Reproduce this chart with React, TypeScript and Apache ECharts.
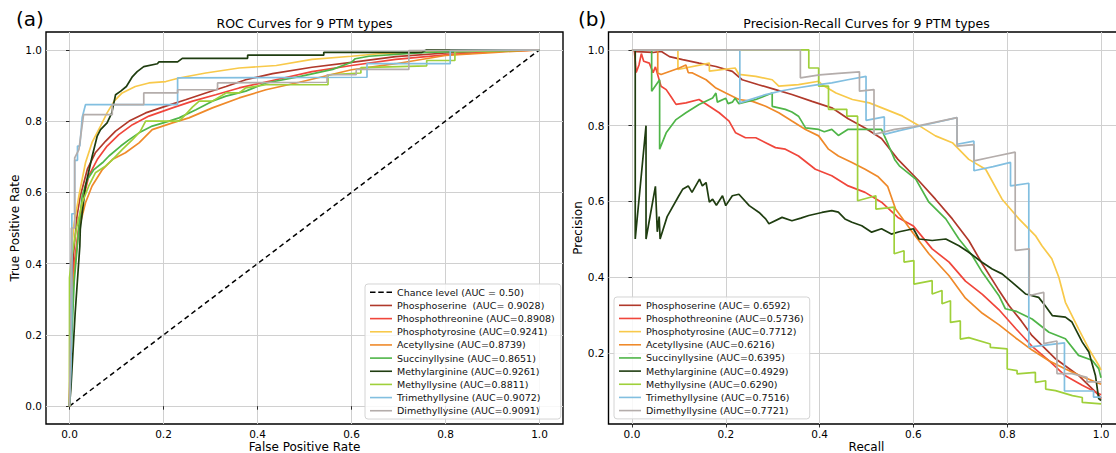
import React, { useEffect, useRef } from "react";
import * as echarts from "echarts";

type Pt = [number, number];

// ---- axis ticks ----
const rocTicks = [0, 0.2, 0.4, 0.6, 0.8, 1.0];
const prXTicks = [0, 0.2, 0.4, 0.6, 0.8, 1.0];
const prYTicks = [0.2, 0.4, 0.6, 0.8, 1.0];

// ---- PTM types, colours and legend labels ----
const ptmTypes = [
  "Phosphoserine",
  "Phosphothreonine",
  "Phosphotyrosine",
  "Acetyllysine",
  "Succinyllysine",
  "Methylarginine",
  "Methyllysine",
  "Trimethyllysine",
  "Dimethyllysine",
];
const ptmColors = [
  "#b0392b",
  "#f0463b",
  "#f8c94a",
  "#ef8a2a",
  "#4fb548",
  "#1f3d10",
  "#9fd03a",
  "#82bfe0",
  "#b4adab",
];
const chanceLabel = "Chance level (AUC = 0.50)";
const rocLabels = [
  "Phosphoserine  (AUC= 0.9028)",
  "Phosphothreonine (AUC=0.8908)",
  "Phosphotyrosine (AUC=0.9241)",
  "Acetyllysine (AUC=0.8739)",
  "Succinyllysine (AUC=0.8651)",
  "Methylarginine (AUC=0.9261)",
  "Methyllysine (AUC=0.8811)",
  "Trimethyllysine (AUC=0.9072)",
  "Dimethyllysine (AUC=0.9091)",
];
const prLabels = [
  "Phosphoserine (AUC= 0.6592)",
  "Phosphothreonine (AUC=0.5736)",
  "Phosphotyrosine (AUC=0.7712)",
  "Acetyllysine (AUC=0.6216)",
  "Succinyllysine (AUC=0.6395)",
  "Methylarginine (AUC=0.4929)",
  "Methyllysine (AUC=0.6290)",
  "Trimethyllysine (AUC=0.7516)",
  "Dimethyllysine (AUC=0.7721)",
];

// ---- ROC curves: [false positive rate, true positive rate] ----
const rocChance: Pt[] = [[0, 0], [1, 1]];
const rocPhosphoserine: Pt[] = [[0,0],[0.002,0.2],[0.008,0.42],[0.016,0.534],[0.023,0.59],[0.038,0.665],[0.055,0.711],[0.077,0.744],[0.098,0.772],[0.127,0.8],[0.162,0.823],[0.205,0.842],[0.247,0.86],[0.29,0.879],[0.333,0.897],[0.375,0.916],[0.432,0.933],[0.516,0.951],[0.6,0.965],[0.694,0.981],[0.8,0.991],[0.9,0.997],[1,1]];
const rocPhosphothreonine: Pt[] = [[0,0],[0.003,0.2],[0.01,0.4],[0.02,0.506],[0.031,0.59],[0.041,0.646],[0.059,0.692],[0.08,0.73],[0.105,0.762],[0.134,0.79],[0.169,0.814],[0.219,0.837],[0.262,0.856],[0.311,0.874],[0.361,0.893],[0.432,0.914],[0.516,0.939],[0.6,0.956],[0.694,0.973],[0.8,0.986],[0.906,0.995],[1,1]];
const rocPhosphotyrosine: Pt[] = [[0,0],[0.001,0.3],[0.004,0.42],[0.009,0.506],[0.02,0.59],[0.034,0.683],[0.048,0.74],[0.066,0.786],[0.08,0.823],[0.095,0.856],[0.112,0.879],[0.14,0.897],[0.169,0.907],[0.205,0.911],[0.233,0.921],[0.29,0.935],[0.361,0.949],[0.44,0.956],[0.516,0.973],[0.6,0.982],[0.658,0.989],[0.8,0.996],[1,1]];
const rocAcetyllysine: Pt[] = [[0,0],[0.002,0.15],[0.008,0.35],[0.02,0.497],[0.034,0.571],[0.048,0.618],[0.07,0.664],[0.091,0.692],[0.119,0.711],[0.148,0.739],[0.176,0.776],[0.219,0.795],[0.254,0.809],[0.304,0.837],[0.361,0.865],[0.418,0.888],[0.489,0.909],[0.6,0.944],[0.694,0.961],[0.8,0.984],[0.906,0.993],[1,1]];
const rocSuccinyllysine: Pt[] = [[0,0],[0.002,0.1],[0.01,0.35],[0.02,0.5],[0.027,0.59],[0.038,0.636],[0.052,0.664],[0.07,0.683],[0.084,0.702],[0.109,0.73],[0.127,0.748],[0.148,0.767],[0.176,0.786],[0.212,0.8],[0.233,0.809],[0.269,0.832],[0.304,0.856],[0.333,0.87],[0.375,0.884],[0.418,0.907],[0.489,0.925],[0.56,0.945],[0.6,0.965],[0.608,0.975],[0.637,0.982],[0.757,0.993],[0.82,0.995],[1,1]];
const rocMethylarginine: Pt[] = [[0,0],[0.003,0.05],[0.012,0.26],[0.022,0.45],[0.023,0.497],[0.034,0.618],[0.048,0.7],[0.059,0.758],[0.066,0.776],[0.08,0.795],[0.09,0.823],[0.098,0.874],[0.109,0.884],[0.121,0.897],[0.134,0.925],[0.144,0.939],[0.158,0.953],[0.187,0.961],[0.19,0.966],[0.23,0.966],[0.24,0.976],[0.379,0.976],[0.379,0.985],[0.541,0.985],[0.541,0.993],[0.75,0.993],[0.76,1],[1,1]];
const rocMethyllysine: Pt[] = [[0,0],[0,0.36],[0.005,0.42],[0.015,0.5],[0.027,0.571],[0.041,0.618],[0.055,0.655],[0.077,0.674],[0.09,0.69],[0.112,0.72],[0.134,0.748],[0.15,0.77],[0.162,0.8],[0.233,0.8],[0.247,0.818],[0.262,0.84],[0.276,0.856],[0.304,0.856],[0.333,0.879],[0.361,0.879],[0.375,0.893],[0.418,0.902],[0.55,0.902],[0.55,0.93],[0.62,0.935],[0.62,0.95],[0.76,0.955],[0.76,0.97],[0.82,0.97],[0.82,0.995],[1,1]];
const rocTrimethyllysine: Pt[] = [[0,0],[0.003,0.1],[0.005,0.26],[0.005,0.54],[0.011,0.54],[0.011,0.69],[0.017,0.69],[0.017,0.73],[0.022,0.73],[0.027,0.81],[0.034,0.846],[0.23,0.846],[0.23,0.921],[0.633,0.923],[0.633,0.961],[0.81,0.961],[0.81,0.998],[1,1]];
const rocDimethyllysine: Pt[] = [[0,0],[0.002,0.19],[0.004,0.5],[0.011,0.5],[0.011,0.697],[0.02,0.72],[0.03,0.818],[0.091,0.818],[0.091,0.846],[0.158,0.846],[0.158,0.879],[0.23,0.879],[0.23,0.888],[0.315,0.888],[0.315,0.907],[0.548,0.909],[0.548,0.93],[0.61,0.93],[0.61,0.945],[0.722,0.945],[0.722,0.998],[1,1]];

// ---- Precision-recall curves: [recall, precision] ----
const prPhosphoserine: Pt[] = [[0,1],[0.01,0.995],[0.045,0.993],[0.062,0.996],[0.08,0.982],[0.108,0.974],[0.143,0.965],[0.179,0.956],[0.214,0.943],[0.235,0.921],[0.27,0.908],[0.306,0.895],[0.341,0.882],[0.384,0.864],[0.426,0.847],[0.461,0.818],[0.497,0.794],[0.532,0.766],[0.567,0.711],[0.612,0.654],[0.647,0.606],[0.683,0.554],[0.718,0.497],[0.747,0.435],[0.78,0.37],[0.804,0.325],[0.83,0.285],[0.853,0.246],[0.903,0.185],[0.952,0.141],[0.995,0.089],[1,0.08]];
const prPhosphothreonine: Pt[] = [[0,1],[0.005,1],[0.009,0.94],[0.015,0.96],[0.02,0.99],[0.025,0.97],[0.037,0.965],[0.045,0.94],[0.05,0.955],[0.062,0.904],[0.073,0.895],[0.083,0.877],[0.094,0.856],[0.115,0.86],[0.143,0.869],[0.165,0.851],[0.186,0.834],[0.207,0.812],[0.221,0.781],[0.242,0.768],[0.264,0.768],[0.285,0.755],[0.306,0.742],[0.327,0.738],[0.355,0.72],[0.391,0.685],[0.426,0.668],[0.461,0.641],[0.497,0.624],[0.532,0.598],[0.567,0.558],[0.6,0.535],[0.64,0.475],[0.676,0.44],[0.711,0.39],[0.747,0.355],[0.782,0.315],[0.818,0.265],[0.853,0.218],[0.889,0.18],[0.924,0.14],[0.96,0.115],[1,0.09]];
const prPhosphotyrosine: Pt[] = [[0,1],[0.098,1],[0.098,0.948],[0.165,0.965],[0.165,0.944],[0.22,0.952],[0.228,0.935],[0.264,0.93],[0.299,0.921],[0.313,0.904],[0.355,0.908],[0.398,0.917],[0.405,0.908],[0.435,0.886],[0.47,0.869],[0.506,0.86],[0.541,0.843],[0.577,0.825],[0.612,0.8],[0.647,0.773],[0.683,0.755],[0.718,0.711],[0.754,0.685],[0.789,0.606],[0.825,0.554],[0.86,0.51],[0.874,0.483],[0.895,0.449],[0.91,0.4],[0.924,0.334],[0.952,0.264],[0.974,0.211],[0.995,0.168],[1,0.155]];
const prAcetyllysine: Pt[] = [[0,1],[0.055,1],[0.055,0.939],[0.062,0.935],[0.101,0.952],[0.115,0.96],[0.12,0.94],[0.129,0.939],[0.158,0.921],[0.179,0.899],[0.2,0.886],[0.228,0.869],[0.257,0.864],[0.285,0.851],[0.313,0.834],[0.341,0.812],[0.37,0.79],[0.398,0.773],[0.419,0.738],[0.44,0.72],[0.469,0.703],[0.497,0.685],[0.525,0.665],[0.545,0.64],[0.562,0.58],[0.598,0.519],[0.633,0.462],[0.676,0.404],[0.711,0.345],[0.747,0.305],[0.782,0.275],[0.818,0.24],[0.853,0.208],[0.889,0.18],[0.924,0.158],[0.96,0.138],[1,0.118]];
const prSuccinyllysine: Pt[] = [[0,1],[0.042,1],[0.042,0.891],[0.059,0.921],[0.059,0.738],[0.073,0.781],[0.094,0.816],[0.115,0.834],[0.143,0.856],[0.172,0.873],[0.179,0.886],[0.182,0.862],[0.2,0.872],[0.205,0.858],[0.214,0.862],[0.22,0.872],[0.228,0.858],[0.264,0.869],[0.299,0.886],[0.299,0.851],[0.327,0.843],[0.341,0.836],[0.355,0.825],[0.37,0.794],[0.398,0.79],[0.41,0.784],[0.426,0.79],[0.44,0.774],[0.46,0.79],[0.497,0.79],[0.532,0.79],[0.546,0.751],[0.56,0.711],[0.57,0.694],[0.605,0.659],[0.633,0.598],[0.669,0.554],[0.697,0.501],[0.725,0.458],[0.747,0.413],[0.782,0.352],[0.796,0.317],[0.82,0.31],[0.853,0.29],[0.889,0.255],[0.924,0.238],[0.952,0.194],[0.981,0.181],[0.995,0.159],[1,0.135]];
const prMethylarginine: Pt[] = [[0.007,1],[0.007,0.501],[0.03,0.8],[0.03,0.501],[0.05,0.64],[0.054,0.52],[0.058,0.56],[0.06,0.501],[0.075,0.56],[0.1,0.615],[0.108,0.632],[0.12,0.641],[0.128,0.624],[0.144,0.659],[0.15,0.641],[0.158,0.65],[0.165,0.598],[0.172,0.606],[0.18,0.59],[0.193,0.615],[0.2,0.589],[0.214,0.615],[0.228,0.619],[0.25,0.589],[0.271,0.571],[0.285,0.554],[0.292,0.541],[0.32,0.558],[0.341,0.549],[0.36,0.556],[0.377,0.563],[0.405,0.571],[0.426,0.576],[0.44,0.572],[0.454,0.554],[0.469,0.545],[0.49,0.536],[0.511,0.519],[0.532,0.528],[0.553,0.514],[0.57,0.52],[0.6,0.528],[0.612,0.501],[0.64,0.497],[0.669,0.501],[0.697,0.483],[0.718,0.466],[0.747,0.439],[0.768,0.422],[0.789,0.409],[0.81,0.387],[0.839,0.356],[0.867,0.347],[0.881,0.325],[0.896,0.299],[0.924,0.295],[0.938,0.282],[0.96,0.229],[0.974,0.203],[0.988,0.141],[0.995,0.08],[1,0.075]];
const prMethyllysine: Pt[] = [[0,1],[0.377,1],[0.377,0.952],[0.398,0.952],[0.398,0.904],[0.419,0.904],[0.419,0.843],[0.458,0.843],[0.458,0.825],[0.481,0.825],[0.481,0.602],[0.52,0.615],[0.52,0.58],[0.559,0.585],[0.559,0.462],[0.58,0.47],[0.58,0.44],[0.601,0.444],[0.601,0.382],[0.64,0.391],[0.64,0.356],[0.661,0.365],[0.661,0.33],[0.679,0.338],[0.679,0.281],[0.7,0.285],[0.7,0.237],[0.718,0.241],[0.764,0.224],[0.764,0.215],[0.8,0.211],[0.8,0.158],[0.821,0.154],[0.821,0.145],[0.86,0.149],[0.86,0.123],[0.882,0.127],[0.882,0.105],[0.903,0.101],[0.939,0.088],[0.96,0.083],[0.96,0.07],[1,0.066]];
const prTrimethyllysine: Pt[] = [[0,1],[0.23,1],[0.23,0.86],[0.25,0.868],[0.285,0.882],[0.32,0.892],[0.355,0.9],[0.39,0.907],[0.426,0.913],[0.46,0.921],[0.499,0.93],[0.499,0.814],[0.538,0.823],[0.538,0.777],[0.57,0.787],[0.6,0.795],[0.65,0.809],[0.693,0.821],[0.693,0.751],[0.729,0.759],[0.729,0.681],[0.77,0.692],[0.807,0.703],[0.807,0.641],[0.846,0.648],[0.846,0.216],[0.922,0.227],[0.922,0.1],[0.984,0.1],[0.984,0.084],[1,0.084]];
const prDimethyllysine: Pt[] = [[0,1],[0.359,1],[0.359,0.926],[0.4,0.934],[0.44,0.938],[0.485,0.942],[0.485,0.891],[0.516,0.895],[0.516,0.777],[0.56,0.79],[0.6,0.797],[0.65,0.81],[0.693,0.821],[0.693,0.746],[0.729,0.75],[0.729,0.707],[0.77,0.718],[0.817,0.73],[0.817,0.471],[0.847,0.475],[0.847,0.352],[0.878,0.36],[0.878,0.225],[0.906,0.232],[0.906,0.146],[0.938,0.146],[0.97,0.136],[0.97,0.124],[1,0.124]];

const rocCurves: Pt[][] = [
  rocPhosphoserine, rocPhosphothreonine, rocPhosphotyrosine, rocAcetyllysine, rocSuccinyllysine,
  rocMethylarginine, rocMethyllysine, rocTrimethyllysine, rocDimethyllysine,
];
const prCurves: Pt[][] = [
  prPhosphoserine, prPhosphothreonine, prPhosphotyrosine, prAcetyllysine, prSuccinyllysine,
  prMethylarginine, prMethyllysine, prTrimethyllysine, prDimethyllysine,
];

const FONT = '"DejaVu Sans", "Liberation Sans", sans-serif';
const LINE_W = 1.7;

// legend keys: a solid bar and a dashed bar, both 22 x 1.6
const solidKey = "path://M0,0h22v1.6h-22z";
const dashedKey = "path://M0,0h5.5v1.6h-5.5z M8.25,0h5.5v1.6h-5.5z M16.5,0h5.5v1.6h-5.5z";

function valueAxis(gridIndex: number, min: number, max: number, ticks: number[], name: string) {
  return {
    type: "value",
    gridIndex,
    min,
    max,
    name,
    nameLocation: "middle",
    nameGap: 25,
    nameTextStyle: { fontFamily: FONT, fontSize: 12, color: "#000" },
    axisLine: { show: false },
    axisTick: {
      show: true,
      customValues: ticks,
      length: 3.5,
      inside: false,
      lineStyle: { color: "#000", width: 0.8 },
    },
    axisLabel: {
      customValues: ticks,
      margin: 4,
      fontFamily: FONT,
      fontSize: 10.5,
      lineHeight: 11,
      color: "#000",
      formatter: (v: number) => v.toFixed(1),
    },
    splitLine: { show: true, lineStyle: { color: "#d0d0d0", width: 1 } },
  };
}

function legendBox(left: number, top: number, labels: string[], dashedFirst: boolean) {
  return {
    orient: "vertical",
    left,
    top,
    data: labels.map((name, i) => ({ name, icon: dashedFirst && i === 0 ? dashedKey : solidKey })),
    itemWidth: 22,
    itemHeight: 1.6,
    itemGap: 3.16,
    padding: [3.3, 6, 3.3, 5],
    backgroundColor: "rgba(255,255,255,0.85)",
    borderColor: "#d4d4d4",
    borderWidth: 1,
    borderRadius: 3,
    selectedMode: false,
    textStyle: { fontFamily: FONT, fontSize: 9.5, color: "#111", lineHeight: 10 },
  };
}

function gridBox(left: number, width: number) {
  return {
    left,
    top: 32,
    width,
    height: 392,
    show: true,
    borderColor: "#000",
    borderWidth: 1.4,
    backgroundColor: "transparent",
    containLabel: false,
    outerBoundsMode: "none",
  };
}

function caption(text: string, x: number, y: number, size: number, align: string) {
  return {
    type: "text",
    x,
    y,
    style: { text, font: `${size}px ${FONT}`, fill: "#000", align, verticalAlign: "middle" },
  };
}

export default function App() {
  const ref = useRef<HTMLDivElement>(null);

  useEffect(() => {
    if (!ref.current) return;
    const chart = echarts.init(ref.current, undefined, { renderer: "svg" });

    const series: any[] = [];
    series.push({
      type: "line",
      name: chanceLabel,
      xAxisIndex: 0,
      yAxisIndex: 0,
      data: rocChance,
      symbol: "none",
      lineStyle: { color: "#000", width: 1.5, type: [5, 3.5] },
      itemStyle: { color: "#000" },
      emphasis: { disabled: true },
    });
    rocCurves.forEach((d, i) => {
      series.push({
        type: "line",
        name: rocLabels[i],
        xAxisIndex: 0,
        yAxisIndex: 0,
        data: d,
        symbol: "none",
        lineStyle: { color: ptmColors[i], width: LINE_W },
        itemStyle: { color: ptmColors[i] },
        emphasis: { disabled: true },
      });
    });
    prCurves.forEach((d, i) => {
      series.push({
        type: "line",
        name: prLabels[i],
        xAxisIndex: 1,
        yAxisIndex: 1,
        data: d,
        symbol: "none",
        lineStyle: { color: ptmColors[i], width: LINE_W },
        itemStyle: { color: ptmColors[i] },
        emphasis: { disabled: true },
      });
    });

    chart.setOption({
      animation: false,
      textStyle: { fontFamily: FONT },
      grid: [gridBox(46, 517), gridBox(608.5, 516)],
      xAxis: [
        valueAxis(0, -0.05, 1.05, rocTicks, ""),
        valueAxis(1, -0.05, 1.05, prXTicks, ""),
      ],
      yAxis: [
        valueAxis(0, -0.05, 1.05, rocTicks, "True Positive Rate"),
        valueAxis(1, 0.013, 1.047, prYTicks, "Precision"),
      ],
      legend: [
        legendBox(365, 284, [chanceLabel, ...rocLabels], true),
        legendBox(614, 297, prLabels, false),
      ],
      graphic: [
        caption("(a)", 16, 19, 20, "left"),
        caption("(b)", 578, 19, 20, "left"),
        caption("ROC Curves for 9 PTM types", 304.5, 23, 12.5, "center"),
        caption("Precision-Recall Curves for 9 PTM types", 866.5, 23, 12.5, "center"),
        caption("False Positive Rate", 304.5, 446.5, 12, "center"),
        caption("Recall", 866.5, 446.5, 12, "center"),
      ],
      series,
    });

    return () => chart.dispose();
  }, []);

  return (
    <div
      ref={ref}
      style={{ position: "absolute", left: 0, top: 0, width: 1116, height: 453, background: "#fff" }}
    />
  );
}
